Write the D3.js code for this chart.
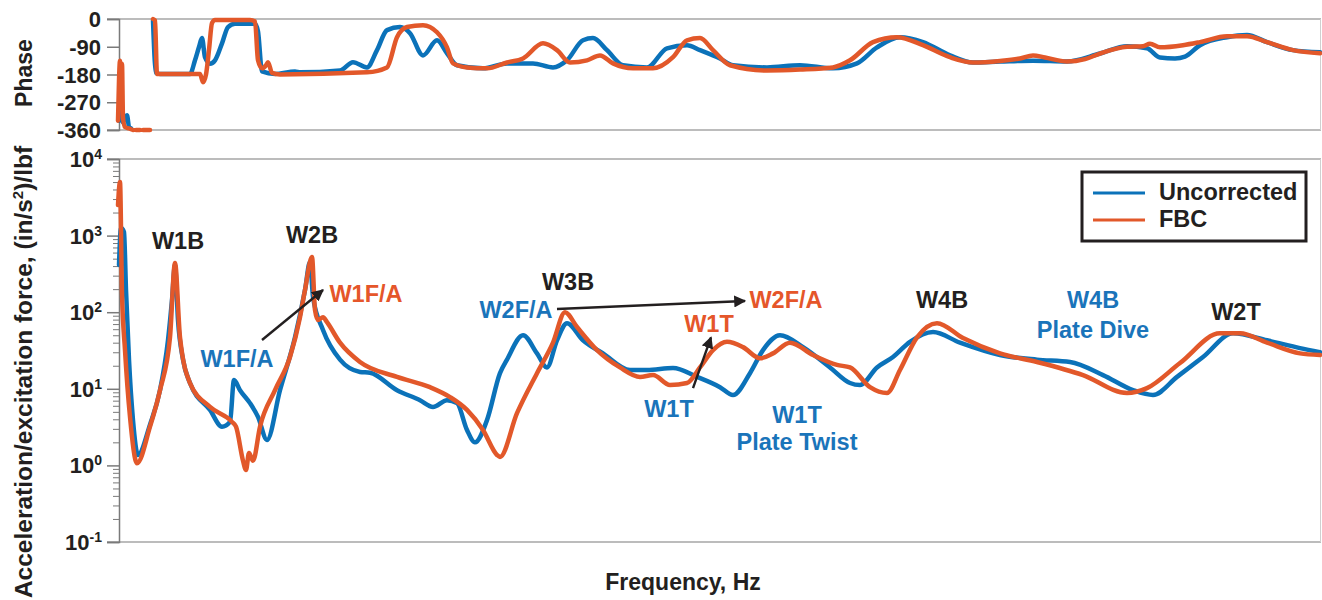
<!DOCTYPE html>
<html><head><meta charset="utf-8">
<script src="https://cdn.jsdelivr.net/npm/d3@7"></script>
<style>
html,body{margin:0;padding:0;background:#fff;}
svg text{font-family:"Liberation Sans",Arial,Helvetica,sans-serif;font-weight:bold;}
</style></head><body>
<svg id="chart" width="1322" height="600"></svg>
<script>
// ---------------- DATA ----------------
const seriesNames = ["Uncorrected", "FBC"];
const seriesColors = ["#0b72b9", "#e2582a"];

// Magnitude, Uncorrected
const freqUncMag = [0,2,5,7,10,14,19,31,41,49,53,56,59,64,71,91,103,111,115,121,131,139,148,161,176,186,191,194,204,221,241,251,278,301,314,328,338,348,356,368,381,388,404,418,428,438,448,464,484,511,528,554,578,601,614,631,644,661,684,711,731,741,758,774,791,814,841,881,918,951,984,1014,1034,1058,1084,1114,1148,1181,1201];
const magUnc = [413,1256,1114,195,23.8,3.9,1.37,3.4,9.6,43,144,413,79,24,11.9,5.3,3.2,3.7,13,9.6,6.5,4.3,2.15,9.6,47,195,452,158,58.6,24,16.6,16.2,9.6,7.1,5.8,7.1,6.5,2.9,2.0,3.9,16,24,50,29,19,43,72,43,29,17.6,17.6,18.7,14.3,10.5,8.3,16,32,50,35,19,11.9,11.2,19,26,41,55,40,27.6,24,22.4,15.1,9.6,8.3,14.3,26,53,43,34,30];

// Magnitude, FBC
const freqFbcMag = [-1,1,3,6,11,18,31,41,51,56,61,71,91,113,117,124,127,130,134,141,156,171,181,186,193,196,199,204,208,221,241,278,311,331,348,364,378,381,398,418,434,446,458,478,501,521,534,551,568,581,594,608,624,641,654,671,694,718,731,751,768,781,798,818,844,881,918,964,1008,1028,1061,1101,1121,1148,1181,1201];
const magFbc = [2500,5000,178,32,4.3,1.07,3.2,9.6,47,439,47,11.9,5.8,3.7,3.2,1.15,0.87,1.45,1.15,3.2,9.6,26,86,195,526,107,79,86,74,40,22.4,14.3,10.5,7.8,5.3,2.9,1.37,1.29,4.8,16,40,100,64,32,19,14.3,15.1,11.2,11.9,19,32,41,35,25,29,40,27.6,20.5,19,10.5,8.8,17.6,47,72,46,29,22.4,15.1,8.8,10.2,21.7,53,53,40,29,27.6];

// Phase, Uncorrected (null = gap)
const freqUncPh = [0,2,4,6,8,10,12,20,34,37,41,71,76,80,83,86,91,96,103,109,116,126,136,139,143,156,176,181,221,234,248,258,268,281,291,304,318,328,338,364,388,414,434,448,464,474,488,504,528,548,568,581,601,614,648,681,714,738,758,781,804,831,854,881,914,948,981,1008,1028,1041,1056,1066,1081,1108,1128,1148,1174,1201];
const phaseUnc = [-330,-300,-335,-320,-312,-350,-355,null,-5,-175,-178,-178,-134,-91,-62,-124,-145,-134,-79,-26,-15,-15,-15,-40,-170,-178,-170,-173,-167,-140,-157,-101,-36,-26,-46,-118,-69,-111,-150,-160,-144,-144,-157,-134,-69,-62,-101,-150,-157,-95,-85,-101,-128,-150,-157,-150,-160,-144,-92,-59,-75,-118,-141,-138,-135,-138,-112,-88,-95,-125,-128,-122,-85,-59,-52,-75,-101,-108];

// Phase, FBC (null = gap)
const freqFbcPh = [-1,0,1,2,3,4,6,10,14,15,17,21,22,24,31,32,34,36,38,81,84,87,90,93,96,131,136,139,143,147,149,153,161,248,268,278,288,304,318,328,334,348,368,388,404,424,438,451,468,481,494,514,534,554,568,581,594,611,648,681,714,731,754,778,804,831,854,881,901,914,926,948,966,981,1008,1024,1031,1041,1064,1081,1108,1128,1148,1174,1201];
const phaseFbc = [-330,-200,-135,-260,-145,-320,-350,-355,-360,null,-360,-360,null,-360,-360,null,0,-5,-178,-178,-205,-180,-100,-13,-3,-3,-8,-134,-160,-150,-140,-175,-180,-173,-157,-59,-26,-20,-43,-92,-144,-157,-160,-141,-128,-79,-101,-141,-134,-118,-144,-160,-160,-124,-69,-62,-101,-150,-167,-164,-157,-134,-75,-59,-85,-124,-141,-136,-128,-118,-125,-138,-130,-112,-90,-88,-80,-92,-85,-75,-56,-56,-75,-101,-111];

// Axis ticks
const phaseTicks = [0,-90,-180,-270,-360];
const magExponents = [4,3,2,1,0,-1];

// Annotations
const labelTexts = ["W1B","W2B","W1F/A","W1F/A","W3B","W2F/A","W2F/A","W1T","W1T","W1T","Plate Twist","W4B","W4B","Plate Dive","W2T"];
const labelFreqs = [59,193,247,118,449,397,667,590,550,678,678,823,974,974,1117];
const labelMags  = [668,800,136,19.3,195,84,113,55,4.3,3.6,1.59,113,113,46,79];
const labelKinds = ["k","k","o","b","k","b","o","o","b","b","b","k","b","b","k"];

const arrowFrom = [[143,43.4],[438,110],[574,10.2]];
const arrowTo   = [[204,195],[626,140],[592,47]];

// ---------------- CHART ----------------
const svg = d3.select("#chart");
const x = d3.scaleLinear().domain([-2,1202]).range([117,1321]);
const yP = d3.scaleLinear().domain([-360,0]).range([130,19]);
const yM = d3.scaleLog().domain([0.1,10000]).range([542,159]);
const textColor = "#231f20";
const kindColor = {k:textColor, b:"#1a74ba", o:"#e5562a"};

// frame lines
const frameG = svg.append("g");
[[yP(0)],[yP(-360)],[yM(10000)],[yM(0.1)]].forEach(([yy])=>{
  frameG.append("line").attr("x1",107).attr("x2",1321).attr("y1",yy).attr("y2",yy)
    .attr("stroke","#a6a6a6").attr("stroke-width",1.5);
});
frameG.append("line").attr("x1",1320.5).attr("x2",1320.5).attr("y1",yP(0)).attr("y2",yP(-360)).attr("stroke","#d0d0d0");
frameG.append("line").attr("x1",1320.5).attr("x2",1320.5).attr("y1",yM(10000)).attr("y2",yM(0.1)).attr("stroke","#d0d0d0");

// phase axis
const pAxis = svg.append("g").attr("transform",`translate(${x(0)},0)`)
  .call(d3.axisLeft(yP).tickValues(phaseTicks).tickSize(12).tickFormat(""));
pAxis.selectAll("path,line").attr("stroke","#7a7a7a").attr("stroke-width",1.5);
svg.append("g").selectAll("text").data(phaseTicks).join("text")
  .attr("x",101).attr("y",d=>yP(d)+8).attr("text-anchor","end")
  .attr("font-size",22).attr("fill",textColor).text(d=>d);

// magnitude axis
const majors = magExponents.map(e=>Math.pow(10,e));
const minors = [];
for (let e=-1;e<4;e++) for (let k=2;k<=9;k++) minors.push(k*Math.pow(10,e));
const mAxis = svg.append("g").attr("transform",`translate(${x(0)},0)`)
  .call(d3.axisLeft(yM).tickValues(majors).tickSize(12).tickFormat(""));
mAxis.selectAll("path,line").attr("stroke","#7a7a7a").attr("stroke-width",1.5);
const mMinor = svg.append("g").attr("transform",`translate(${x(0)},0)`)
  .call(d3.axisLeft(yM).tickValues(minors).tickSize(6).tickFormat(""));
mMinor.select("path").remove();
mMinor.selectAll("line").attr("stroke","#7a7a7a").attr("stroke-width",1);
const mLab = svg.append("g").selectAll("text").data(magExponents).join("text")
  .attr("x",102).attr("y",e=>yM(Math.pow(10,e))+8).attr("text-anchor","end")
  .attr("font-size",22).attr("fill",textColor);
mLab.append("tspan").text("10");
mLab.append("tspan").attr("dy",-8).attr("font-size",14).text(e=>e);

// curves
const lineP = d3.line().defined(d=>d[1]!=null).x(d=>x(d[0])).y(d=>yP(d[1])).curve(d3.curveMonotoneX);
const lineM = d3.line().x(d=>x(d[0])).y(d=>yM(d[1])).curve(d3.curveMonotoneX);
const phData = [d3.zip(freqUncPh,phaseUnc), d3.zip(freqFbcPh,phaseFbc)];
const mgData = [d3.zip(freqUncMag,magUnc), d3.zip(freqFbcMag,magFbc)];
[0,1].forEach(i=>{
  svg.append("path").datum(phData[i]).attr("d",lineP).attr("fill","none")
    .attr("stroke",seriesColors[i]).attr("stroke-width",4.5).attr("stroke-linejoin","round").attr("stroke-linecap","round");
  svg.append("path").datum(mgData[i]).attr("d",lineM).attr("fill","none")
    .attr("stroke",seriesColors[i]).attr("stroke-width",4.5).attr("stroke-linejoin","round").attr("stroke-linecap","round");
});

// arrows
svg.append("defs").append("marker").attr("id","ah").attr("viewBox","0 0 10 10")
  .attr("refX",9).attr("refY",5).attr("markerWidth",5).attr("markerHeight",5)
  .attr("orient","auto").attr("markerUnits","strokeWidth")
  .append("path").attr("d","M0,0 L10,5 L0,10 z").attr("fill",textColor);
arrowFrom.forEach((a,i)=>{
  const b = arrowTo[i];
  svg.append("line").attr("x1",x(a[0])).attr("y1",yM(a[1])).attr("x2",x(b[0])).attr("y2",yM(b[1]))
    .attr("stroke",textColor).attr("stroke-width",2.4).attr("marker-end","url(#ah)");
});

// labels
svg.append("g").selectAll("text").data(labelTexts.map((t,i)=>i)).join("text")
  .attr("x",i=>x(labelFreqs[i])).attr("y",i=>yM(labelMags[i]))
  .attr("text-anchor","middle").attr("font-size",23.5)
  .attr("fill",i=>kindColor[labelKinds[i]]).text(i=>labelTexts[i]);

// legend
const lg = svg.append("g");
lg.append("rect").attr("x",1082).attr("y",172).attr("width",224).attr("height",69)
  .attr("fill","#fff").attr("stroke",textColor).attr("stroke-width",3);
seriesNames.forEach((n,i)=>{
  const yy = 193 + i*27;
  lg.append("line").attr("x1",1093).attr("x2",1145).attr("y1",yy).attr("y2",yy)
    .attr("stroke",seriesColors[i]).attr("stroke-width",3);
  lg.append("text").attr("x",1159).attr("y",yy+7).attr("font-size",23.5).attr("fill",textColor).text(n);
});

// axis titles
svg.append("text").attr("transform","translate(32,73) rotate(-90)").attr("text-anchor","middle")
  .attr("font-size",23).attr("fill",textColor).text("Phase");
const yt = svg.append("text").attr("transform","translate(32,372) rotate(-90)").attr("text-anchor","middle")
  .attr("font-size",24.5).attr("fill",textColor);
yt.append("tspan").text("Acceleration/excitation force, (in/s");
yt.append("tspan").attr("font-size",15).attr("dy",-9).text("2");
yt.append("tspan").attr("dy",9).text(")/lbf");
svg.append("text").attr("x",683).attr("y",590).attr("text-anchor","middle")
  .attr("font-size",23).attr("fill",textColor).text("Frequency, Hz");
</script>
</body></html>
